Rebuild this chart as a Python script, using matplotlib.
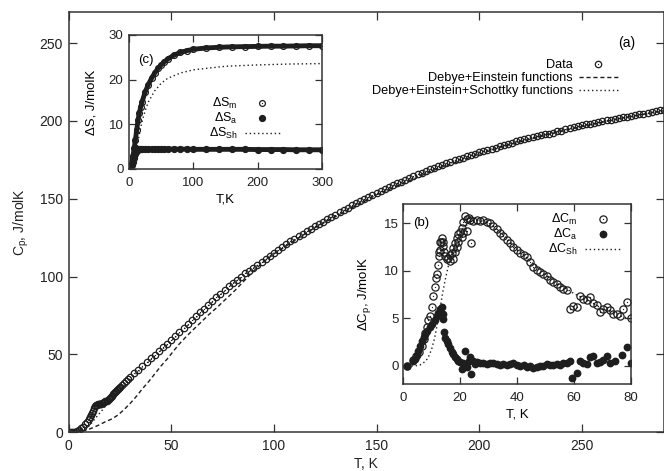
import matplotlib
matplotlib.use('Agg')
import matplotlib.pyplot as plt

plt.rcParams['font.family'] = ['Liberation Sans', 'DejaVu Sans']
plt.rcParams['mathtext.default'] = 'regular'

INK = '#1e1e1e'

# main panel (a): Cp(T), (T, Cp) pairs
cp_points = [
    (0, 0), (1, 0.05), (2, 0.1), (3, 0.4), (4, 0.8), (5, 1.5), (6, 2.5), (7, 3.6),
    (8, 5), (9, 6.6), (10, 8.5), (10.5, 9.6), (11, 10.8), (11.5, 12.2), (12, 13.8),
    (12.5, 15.3), (13, 16.8), (13.5, 17.4), (14, 17.8), (14.5, 17.9), (15, 18.0),
    (15.5, 18.1), (16, 18.3), (16.5, 18.5), (17, 18.8), (17.5, 19.3), (18, 19.8),
    (18.5, 20.4), (19, 21), (19.5, 21.6), (20, 22.3), (20.5, 22.9), (21, 23.6),
    (21.5, 24.3), (22, 25), (22.5, 25.7), (23, 26.4), (23.5, 27.1), (24, 27.8),
    (24.5, 28.5), (25, 29.2), (26, 30.5), (27, 31.8), (28, 33), (29, 34.2),
    (30, 35.5), (32, 37.8), (34, 40.2), (36, 42.6), (38, 45.0), (40, 47.5),
    (42, 49.8), (44, 52.2), (46, 54.5), (48, 56.9), (50, 59.4), (52, 61.9),
    (54, 64.5), (56, 67.0), (58, 69.5), (60, 72.0), (62, 74.5), (64, 77.0),
    (66, 79.5), (68, 81.9), (70, 84.4), (72, 86.8), (74, 89.1), (76, 91.4),
    (78, 93.7), (80, 96.0), (82, 98.0), (84, 100.0), (86, 102.0), (88, 103.9),
    (90, 105.8), (92, 107.7), (94, 109.6), (96, 111.5), (98, 113.4), (100, 115.2),
    (102, 117.1), (104, 119.0), (106, 120.8), (108, 122.6), (110, 124.4),
    (112, 126.0), (114, 127.6), (116, 129.2), (118, 130.8), (120, 132.3),
    (122, 133.8), (124, 135.3), (126, 136.8), (128, 138.3), (130, 139.8),
    (132, 141.3), (134, 142.8), (136, 144.3), (138, 145.7), (140, 147.0),
    (142, 148.4), (144, 149.7), (146, 151.0), (148, 152.3), (150, 153.6),
    (152, 154.9), (154, 156.2), (156, 157.4), (158, 158.6), (160, 159.8),
    (162, 161.0), (164, 162.2), (166, 163.4), (168, 164.6), (170, 165.7),
    (172, 166.8), (174, 167.9), (176, 168.9), (178, 170.0), (180, 171.0),
    (182, 171.9), (184, 172.8), (186, 173.8), (188, 174.7), (190, 175.6),
    (192, 176.4), (194, 177.3), (196, 178.1), (198, 179.0), (200, 179.8),
    (202, 180.6), (204, 181.4), (206, 182.2), (208, 182.9), (210, 183.7),
    (212, 184.5), (214, 185.3), (216, 186.1), (218, 186.8), (220, 187.5),
    (222, 188.2), (224, 188.8), (226, 189.4), (228, 190.1), (230, 190.7),
    (232, 191.3), (234, 191.9), (236, 192.5), (238, 193.2), (240, 193.8),
    (242, 194.5), (244, 195.2), (246, 195.9), (248, 196.5), (250, 197.2),
    (252, 197.7), (254, 198.2), (256, 198.8), (258, 199.3), (260, 199.8),
    (262, 200.3), (264, 200.8), (266, 201.3), (268, 201.8), (270, 202.3),
    (272, 202.8), (274, 203.3), (276, 203.7), (278, 204.2), (280, 204.7),
    (282, 205.2), (284, 205.7), (286, 206.2), (288, 206.7), (290, 207.2),
]
t_data, cp_data = zip(*cp_points)

t_de = [0, 3, 6, 9, 12, 15, 18, 21, 24, 27, 30, 33, 36, 39, 42, 45, 48, 51, 54, 57,
        60, 64, 68, 72, 76, 80, 85, 90, 95, 100, 120, 150, 180, 210, 240, 270, 290]
cp_de = [0, 0.2, 0.7, 1.5, 3, 4.8, 6.8, 8.5, 11, 14.5, 18.5, 23, 28, 32.5, 37.5, 42.5,
         47, 52, 56.8, 61, 65, 70, 75.2, 79.8, 84.8, 89.7, 96.5, 103.5, 109.5, 114.5,
         131.5, 152.5, 169.5, 183, 193.5, 202, 206.5]

t_des = [0, 5, 10, 15, 20, 25, 30, 40, 50, 60, 70, 80, 100, 130, 160, 200, 240, 290]
cp_des = [0, 0.5, 4, 12, 20, 27.5, 34, 46.5, 58.5, 71, 83.5, 95.5, 115, 139.5, 159.5,
          180, 194, 207]

# inset (c): entropy
t_s = [0, 2, 4, 6, 8, 10, 12, 14, 16, 18, 20, 25, 30, 35, 40, 45, 50, 55, 60, 70, 80,
       90, 100, 120, 140, 160, 180, 200, 220, 240, 260, 280, 300]
s_m = [0, 0.3, 1.2, 2.8, 4.6, 6.6, 8.8, 10.9, 12.5, 13.8, 14.9, 17.2, 18.9, 20.3, 21.5,
       22.5, 23.3, 24, 24.6, 25.5, 26.1, 26.5, 26.8, 27.1, 27.25, 27.35, 27.4, 27.45,
       27.5, 27.5, 27.55, 27.6, 27.6]
s_a = [0, 0.2, 0.8, 1.6, 2.5, 3.3, 4.0, 4.4, 4.5, 4.5, 4.5, 4.5, 4.5, 4.5, 4.5, 4.5,
       4.5, 4.5, 4.5, 4.45, 4.45, 4.45, 4.4, 4.4, 4.4, 4.4, 4.4, 4.35, 4.35, 4.35, 4.3,
       4.3, 4.3]
t_ssh = [0, 5, 10, 15, 20, 25, 30, 40, 50, 60, 80, 100, 150, 200, 250, 300]
s_sh = [0, 0.5, 2.5, 7, 10.5, 13, 15, 17.5, 19.2, 20.3, 21.5, 22.2, 23, 23.3, 23.5, 23.6]

# inset (b): excess heat capacity
t_cm = [1.5, 3.5, 4.5, 5.5, 6.5, 7.2, 7.8, 8.3, 8.9, 9.5, 10.1, 10.6, 11.2, 11.6, 12.0,
        12.4, 12.6, 12.8, 13.0, 13.0, 13.3, 13.6, 14.0, 14.2, 14.4, 14.8, 15.3, 15.9,
        16.5, 16.5, 17.1, 17.6, 17.6, 18.2, 18.2, 18.8, 19.0, 19.4, 19.4, 20.0, 20.6,
        20.6, 21.2, 21.2, 21.8, 22.4, 22.4, 23.0, 23.5, 24.0, 24.7, 25.8, 27.0, 28.2,
        29.4, 30.5, 31.7, 32.9, 34.0, 35.2, 36.4, 37.6, 38.7, 39.9, 41.1, 42.3, 43.4,
        44.6, 45.7, 46.9, 48.0, 49.2, 50.4, 51.5, 52.7, 53.9, 55.0, 56.2, 57.4, 58.6,
        59.6, 60.9, 62.1, 63.3, 64.4, 65.6, 66.8, 67.9, 69.1, 70.3, 71.5, 72.6, 73.8,
        75.0, 76.1, 77.3, 78.5, 79.9]
c_m = [0.0, 0.6, 1.0, 1.5, 2.1, 2.8, 3.5, 4.1, 4.8, 5.2, 6.2, 7.3, 8.3, 9.2, 9.6, 10.6,
       12.0, 11.5, 12.2, 13.0, 13.0, 13.4, 12.6, 13.0, 12.0, 11.5, 11.2, 11.3, 11.6, 11.0,
       11.9, 12.4, 11.2, 12.9, 12.0, 13.4, 12.5, 13.9, 13.0, 14.1, 14.5, 13.5, 15.1, 14.0,
       15.7, 15.4, 14.2, 15.5, 15.3, 12.9, 15.2, 15.3, 15.2, 15.3, 15.1, 15.0, 14.7, 14.4,
       14.0, 13.6, 13.2, 12.9, 12.5, 12.2, 11.9, 11.6, 11.4, 10.9, 10.4, 10.1, 9.9, 9.6,
       9.4, 9.0, 8.8, 8.6, 8.3, 8.1, 8.0, 6.0, 6.3, 6.2, 7.3, 7.0, 6.9, 7.2, 6.6, 6.4,
       5.7, 6.0, 6.2, 5.9, 5.5, 5.5, 5.2, 6.0, 6.7, 5.0]
t_ca = [1.3, 3.5, 4.2, 4.8, 5.4, 6.0, 6.6, 7.2, 7.8, 8.5, 9.5, 10.3, 11.2, 11.8, 12.4,
        13.0, 13.6, 13.9, 14.1, 14.4, 14.8, 15.3, 15.9, 16.5, 17.1, 17.7, 18.3, 18.8,
        19.4, 20.0, 20.6, 21.2, 21.7, 22.4, 23.0, 23.5, 24.0, 24.5, 25.2, 25.8, 27.0,
        28.2, 29.4, 30.5, 31.7, 32.9, 34.0, 35.2, 36.4, 37.6, 38.7, 39.9, 41.1, 42.3,
        43.4, 44.6, 45.7, 46.9, 48.0, 49.2, 50.4, 51.5, 52.7, 53.9, 55.0, 56.2, 57.4,
        58.6, 59.2, 60.9, 62.0, 63.3, 64.4, 65.6, 66.8, 68.0, 69.1, 70.3, 71.5, 72.6,
        74.4, 76.7, 78.5, 79.9]
c_a = [0.0, 0.5, 0.7, 1.1, 1.6, 2.1, 2.6, 3.0, 3.4, 3.7, 4.1, 4.4, 4.8, 5.2, 5.6, 6.0,
       6.2, 5.4, 4.9, 3.6, 2.9, 2.6, 2.3, 1.9, 1.5, 1.2, 0.9, 0.7, 0.5, 0.4, -0.3, 0.3,
       1.6, -0.1, 0.5, 0.9, -0.8, 0.5, 0.2, 0.4, 0.3, 0.3, 0.2, 0.3, 0.3, 0.2, 0.1, 0.2,
       0.1, 0.2, 0.3, 0.1, 0.0, 0.1, -0.1, 0.0, -0.2, -0.1, 0.0, 0.0, 0.2, 0.1, 0.1, 0.2,
       0.1, 0.3, 0.3, 0.5, -1.3, -0.7, 0.5, 0.3, 0.2, 0.9, 1.0, 0.3, 0.4, 0.6, 1.0, 0.3,
       0.5, 1.1, 2.0, 0.3]
t_csh = [3, 4, 6, 8, 9, 10, 11, 12, 13, 14, 15, 16, 17, 18, 20, 22, 24, 26, 28, 30, 35,
         40, 45, 50, 55, 60, 65, 70, 75, 80]
c_sh = [0, 0, 0.1, 0.5, 1.0, 1.7, 2.8, 4.3, 6.0, 7.8, 9.3, 10.6, 11.6, 12.5, 13.8, 14.7,
        15.2, 15.3, 15.2, 15.0, 13.8, 12.3, 10.9, 9.6, 8.5, 7.6, 6.8, 6.0, 5.4, 4.9]


def style_axes(ax, size, xpad, ypad, length):
    ax.tick_params(direction='in', top=True, right=True, length=length, width=0.9,
                   labelsize=size, colors='#333333', labelcolor='#222222')
    ax.tick_params(axis='x', pad=xpad)
    ax.tick_params(axis='y', pad=ypad)
    for s in ax.spines.values():
        s.set_linewidth(1.1)
        s.set_color('#333333')


def odot(ax, x, y, ms, mew=0.9):
    # open circle with a dot in the middle
    a, = ax.plot(x, y, 'o', ms=ms, mfc='none', mec=INK, mew=mew, ls='none')
    b, = ax.plot(x, y, 'o', ms=0.9, mfc=INK, mec=INK, mew=0, ls='none')
    return (a, b)


fig = plt.figure(figsize=(6.64, 4.71), dpi=100)

ax = fig.add_axes([0.1032, 0.0822, 0.8968, 0.8925])
h_data = odot(ax, t_data, cp_data, 4.6)
h_de, = ax.plot(t_de, cp_de, color=INK, lw=1.0, dashes=(3, 2))
h_des, = ax.plot(t_des, cp_des, color=INK, lw=1.0, dashes=(1, 2))
ax.set_xlim(0, 290)
ax.set_ylim(0, 270)
ax.set_xticks([0, 50, 100, 150, 200, 250])
ax.set_yticks([0, 50, 100, 150, 200, 250])
style_axes(ax, 10, 5, 4, 6)
ax.set_xlabel('T, K', fontsize=10, labelpad=3, color='#222222')
ax.set_ylabel('C$_p$, J/molK', fontsize=10, labelpad=6, color='#222222')
ax.text(0.938, 0.926, '(a)', transform=ax.transAxes, fontsize=10, ha='center', va='center')
ax.legend([h_data, h_de, h_des],
          ['Data', 'Debye+Einstein functions', 'Debye+Einstein+Schottky functions'],
          loc='upper right', bbox_to_anchor=(0.922, 0.887), frameon=False,
          markerfirst=False, fontsize=9.2, handlelength=3.0, handletextpad=0.5,
          labelspacing=0.08, borderpad=0, borderaxespad=0)

# inset (c)
axc = fig.add_axes([0.1943, 0.6412, 0.2907, 0.2845])
axc.plot(t_s, s_m, color=INK, lw=3.5, solid_capstyle='round')
h_sm = odot(axc, t_s, s_m, 4.2)
axc.plot(t_s, s_a, color=INK, lw=3.5, solid_capstyle='round')
h_sa, = axc.plot(t_s, s_a, 'o', ms=4.2, color=INK, ls='none')
h_ssh, = axc.plot(t_ssh, s_sh, color=INK, lw=1.0, dashes=(1, 2))
axc.set_xlim(0, 300)
axc.set_ylim(0, 30)
axc.set_xticks([0, 100, 200, 300])
axc.set_yticks([0, 10, 20, 30])
style_axes(axc, 9.5, 6, 4, 5)
axc.set_xlabel('T,K', fontsize=9.5, labelpad=3)
axc.set_ylabel('ΔS, J/molK', fontsize=9.5, labelpad=8)
axc.text(0.047, 0.813, '(c)', transform=axc.transAxes, fontsize=9.5, va='center')
axc.legend([h_sm, h_sa, h_ssh], ['ΔS$_m$', 'ΔS$_a$', 'ΔS$_{Sh}$'],
           loc='upper right', bbox_to_anchor=(0.782, 0.545), frameon=False,
           markerfirst=False, fontsize=9, handlelength=2.8, handletextpad=0.6,
           labelspacing=0.0, borderpad=0, borderaxespad=0)

# inset (b)
axb = fig.add_axes([0.6069, 0.1847, 0.3434, 0.3822])
h_cm = odot(axb, t_cm, c_m, 5.2)
h_ca, = axb.plot(t_ca, c_a, 'o', ms=4.6, color=INK, ls='none')
h_csh, = axb.plot(t_csh, c_sh, color=INK, lw=1.0, dashes=(1, 2))
axb.set_xlim(0, 80)
axb.set_ylim(-1.9, 17)
axb.set_xticks([0, 20, 40, 60, 80])
axb.set_yticks([0, 5, 10, 15])
style_axes(axb, 9.5, 6, 3, 5)
axb.set_xlabel('T, K', fontsize=9.5, labelpad=3)
axb.set_ylabel('ΔC$_p$, J/molK', fontsize=9.5, labelpad=8)
axb.text(0.044, 0.894, '(b)', transform=axb.transAxes, fontsize=9.5, va='center')
axb.legend([h_cm, h_ca, h_csh], ['ΔC$_m$', 'ΔC$_a$', 'ΔC$_{Sh}$'],
           loc='upper right', bbox_to_anchor=(0.952, 0.955), frameon=False,
           markerfirst=False, fontsize=9, handlelength=2.8, handletextpad=0.6,
           labelspacing=0.0, borderpad=0, borderaxespad=0)

fig.savefig('out.png', dpi=100)
